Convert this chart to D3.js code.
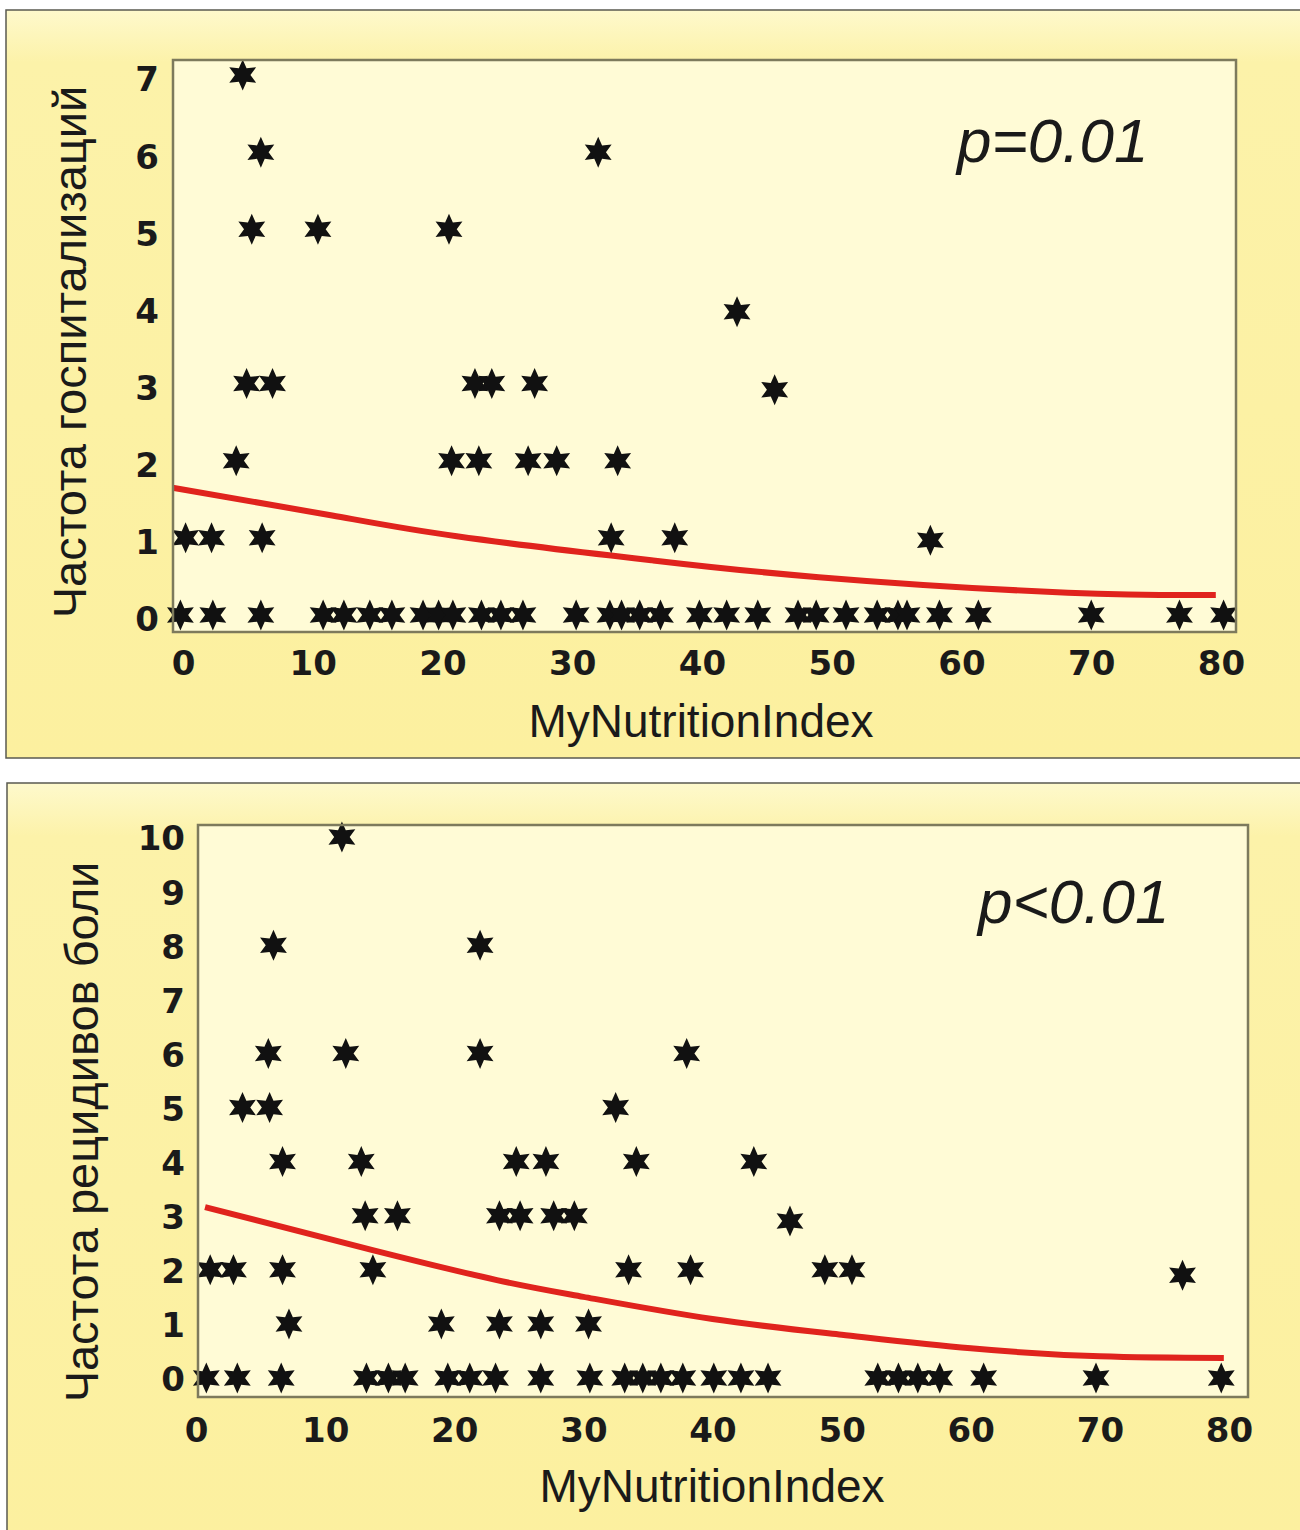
<!DOCTYPE html>
<html>
<head>
<meta charset="utf-8">
<script src="https://cdn.jsdelivr.net/npm/d3@7"></script>
<style>
  body { margin: 0; background: #fff; }
  svg { display: block; }
</style>
</head>
<body>
<div id="chart"></div>
<script>
// ---- data: hospitalisation frequency vs MyNutritionIndex (upper chart)
const hospIndex = [
  -0.2, 2.3, 6.0, 10.8, 12.4, 14.4, 16.1, 18.5, 19.7, 20.8, 23.0, 24.5, 26.2, 30.3, 32.9, 33.8,
  35.2, 36.8, 39.8, 41.9, 44.3, 47.4, 48.8, 51.1, 53.5, 55.1, 55.8, 58.3, 61.3, 70.0, 76.8, 80.2,
  0.2, 2.2, 6.1, 33.0, 37.9, 57.6,
  4.1, 20.7, 22.8, 26.6, 28.8, 33.5,
  4.9, 6.9, 22.5, 23.8, 27.1, 45.6,
  42.7,
  5.3, 10.4, 20.5,
  6.0, 32.0,
  4.6
];
const hospFreq = [
  0, 0, 0, 0, 0, 0, 0, 0, 0, 0, 0, 0, 0, 0, 0, 0,
  0, 0, 0, 0, 0, 0, 0, 0, 0, 0, 0, 0, 0, 0, 0, 0,
  1, 1, 1, 1, 1, 0.97,
  2, 2, 2, 2, 2, 2,
  3, 3, 3, 3, 3, 2.92,
  3.93,
  5, 5, 5,
  6, 6,
  7
];
// red trend line
const hospTrendX = [-0.8, 11.5, 21.1, 33.0, 36.1, 49.0, 68.2, 79.6];
const hospTrendY = [1.65, 1.29, 1.02, 0.77, 0.71, 0.49, 0.29, 0.26];

// ---- data: pain relapse frequency vs MyNutritionIndex (lower chart)
const painIndex = [
  0.8, 3.2, 6.6, 13.2, 14.9, 16.2, 19.5, 21.2, 23.2, 26.7, 30.5, 33.2, 34.6, 36.0, 37.7,
  40.1, 42.2, 44.3, 52.8, 54.4, 55.9, 57.6, 61.0, 69.7, 79.4,
  7.2, 19.0, 23.5, 26.7, 30.4,
  1.1, 2.9, 6.7, 13.7, 33.5, 38.3, 48.7, 50.8, 76.4,
  13.1, 15.6, 23.5, 25.1, 27.7, 29.3, 46.0,
  6.7, 12.8, 24.8, 27.1, 34.1, 43.2,
  3.6, 5.7, 32.5,
  5.6, 11.6, 22.0, 38.0,
  6.0, 22.0,
  11.3
];
const painFreq = [
  0, 0, 0, 0, 0, 0, 0, 0, 0, 0, 0, 0, 0, 0, 0,
  0, 0, 0, 0, 0, 0, 0, 0, 0, 0,
  1, 1, 1, 1, 1,
  2, 2, 2, 2, 2, 2, 2, 2, 1.9,
  3, 3, 3, 3, 3, 3, 2.9,
  4, 4, 4, 4, 4, 4,
  5, 5, 5,
  6, 6, 6, 6,
  8, 8,
  10
];
const painTrendX = [0.7, 13.6, 23.3, 30.0, 40.0, 50.0, 60.0, 70.0, 79.6];
const painTrendY = [3.16, 2.37, 1.81, 1.50, 1.09, 0.80, 0.55, 0.40, 0.37];

const xTicks = [0, 10, 20, 30, 40, 50, 60, 70, 80];
const hospTicks = [0, 1, 2, 3, 4, 5, 6, 7];
const painTicks = [0, 1, 2, 3, 4, 5, 6, 7, 8, 9, 10];

const xTitle = "MyNutritionIndex";

// ---- drawing
const svg = d3.select("#chart")
  .append("svg")
  .attr("width", 1300)
  .attr("height", 1530);

const defs = svg.append("defs");
const grad = defs.append("linearGradient")
  .attr("id", "panelFill")
  .attr("x1", 0).attr("y1", 0).attr("x2", 0).attr("y2", 1);
grad.append("stop").attr("offset", "0").attr("stop-color", "#fef9cc");
grad.append("stop").attr("offset", "0.07").attr("stop-color", "#fcf2a9");
grad.append("stop").attr("offset", "1").attr("stop-color", "#fcf09f");

// six-pointed star marker
const star6 = {
  draw(context, size) {
    const r = Math.sqrt(size), ri = r * 0.5;
    for (let i = 0; i < 12; i++) {
      const a = Math.PI / 6 * i - Math.PI / 2;
      const rr = i % 2 ? ri : r;
      const px = rr * Math.cos(a), py = rr * Math.sin(a);
      if (i === 0) context.moveTo(px, py); else context.lineTo(px, py);
    }
    context.closePath();
  }
};

function drawPanel(p) {
  const g = svg.append("g");

  // outer panel
  g.append("rect")
    .attr("x", p.box[0]).attr("y", p.box[1])
    .attr("width", p.box[2]).attr("height", p.box[3])
    .attr("fill", "url(#panelFill)")
    .attr("stroke", "#5a5a50")
    .attr("stroke-width", 1.5);

  // plot area
  g.append("rect")
    .attr("x", p.plot[0]).attr("y", p.plot[1])
    .attr("width", p.plot[2] - p.plot[0]).attr("height", p.plot[3] - p.plot[1])
    .attr("fill", "#fffbd6");

  const x = d3.scaleLinear().domain([0, 80]).range(p.xRange);
  const y = d3.scaleLinear().domain([0, p.yTop]).range(p.yRange);

  // axes (no tick marks, the frame is the axis line)
  const xAxis = g.append("g")
    .attr("transform", `translate(0,${p.plot[3]})`)
    .call(d3.axisBottom(x).tickValues(xTicks).tickFormat(d3.format("d")).tickSize(0).tickPadding(p.xPad));
  const yAxis = g.append("g")
    .attr("transform", `translate(${p.plot[0]},0)`)
    .call(d3.axisLeft(y).tickValues(p.yTicks).tickFormat(d3.format("d")).tickSize(0).tickPadding(p.yPad));
  [xAxis, yAxis].forEach(a => {
    a.select(".domain").remove();
    a.selectAll("text")
      .attr("fill", "#1a1a1a")
      .style("font-family", "'DejaVu Sans', sans-serif")
      .style("font-weight", "bold")
      .style("font-size", "34px");
  });
  yAxis.selectAll("text").attr("dy", p.yDy);

  // trend line
  const pts = p.trendX.map((d, i) => [d, p.trendY[i]]);
  g.append("path")
    .datum(pts)
    .attr("fill", "none")
    .attr("stroke", "#e0231d")
    .attr("stroke-width", 6)
    .attr("d", d3.line().x(d => x(d[0])).y(d => y(d[1])).curve(d3.curveNatural));

  // points
  const data = p.xs.map((d, i) => ({ x: d, y: p.ys[i] }));
  g.append("g")
    .selectAll("path")
    .data(data)
    .join("path")
    .attr("transform", d => `translate(${x(d.x)},${y(d.y)})`)
    .attr("d", d3.symbol().type(star6).size(15.5 * 15.5))
    .attr("fill", "#111");

  // frame
  g.append("rect")
    .attr("x", p.plot[0]).attr("y", p.plot[1])
    .attr("width", p.plot[2] - p.plot[0]).attr("height", p.plot[3] - p.plot[1])
    .attr("fill", "none")
    .attr("stroke", "#7d7a5c")
    .attr("stroke-width", 2.5);

  // titles
  g.append("text")
    .attr("x", p.xTitle[0]).attr("y", p.xTitle[1])
    .attr("text-anchor", "middle")
    .attr("fill", "#1a1a1a")
    .style("font-family", "'Liberation Sans', Arial, sans-serif")
    .style("font-size", "46px")
    .text(xTitle);

  g.append("text")
    .attr("transform", `translate(${p.yTitle[0]},${p.yTitle[1]}) rotate(-90)`)
    .attr("text-anchor", "middle")
    .attr("fill", "#1a1a1a")
    .style("font-family", "'Liberation Sans', Arial, sans-serif")
    .style("font-size", "47px")
    .text(p.yLabel);

  g.append("text")
    .attr("x", p.pPos[0]).attr("y", p.pPos[1])
    .attr("fill", "#1a1a1a")
    .style("font-family", "'Liberation Sans', Arial, sans-serif")
    .style("font-style", "italic")
    .style("font-size", "62px")
    .text(p.pText);
}

drawPanel({
  box: [6, 10, 1300, 748],
  plot: [173, 60, 1236, 632],
  xRange: [183, 1221],
  yRange: [615, 75],
  yTop: 7,
  yTicks: hospTicks,
  xPad: 19, yPad: 14, yDy: "0.47em",
  xs: hospIndex, ys: hospFreq,
  trendX: hospTrendX, trendY: hospTrendY,
  xTitle: [701, 737],
  yTitle: [86, 352],
  yLabel: "Частота госпитализаций",
  pPos: [957, 162],
  pText: "p=0.01"
});

drawPanel({
  box: [7, 783, 1300, 760],
  plot: [198, 825, 1248, 1397],
  xRange: [196, 1229],
  yRange: [1378, 837],
  yTop: 10,
  yTicks: painTicks,
  xPad: 21, yPad: 13, yDy: "0.38em",
  xs: painIndex, ys: painFreq,
  trendX: painTrendX, trendY: painTrendY,
  xTitle: [712, 1502],
  yTitle: [98, 1132],
  yLabel: "Частота рецидивов боли",
  pPos: [978, 923],
  pText: "p<0.01"
});
</script>
</body>
</html>
